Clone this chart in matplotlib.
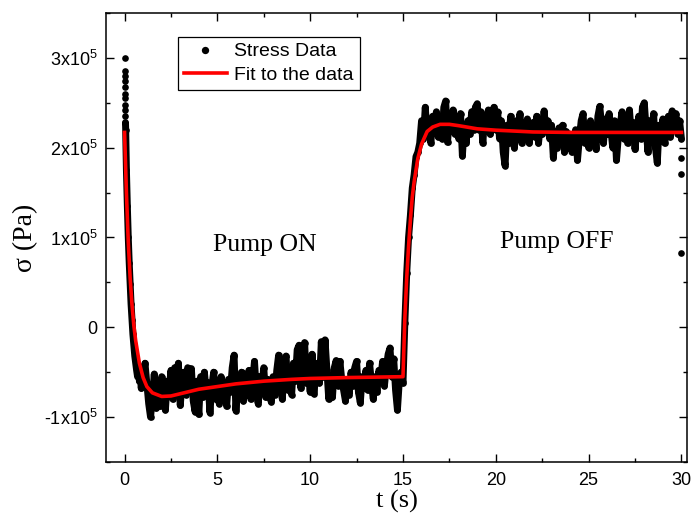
import matplotlib
matplotlib.use("Agg")
import matplotlib.pyplot as plt
import numpy as np
from matplotlib.ticker import FixedLocator, MultipleLocator


# stress values in units of 1e5 Pa
spike_t = [0.0, 0.0, 0.0, 0.0, 0.01, 0.01, 0.02, 0.02, 0.03, 0.04, 0.05]
spike_s = [3.0, 2.85, 2.80, 2.74, 2.68, 2.60, 2.55, 2.48, 2.42, 2.35, 2.28]

decay_t = [0.06, 0.1, 0.15, 0.2, 0.25, 0.3, 0.35, 0.4, 0.45, 0.5, 0.55, 0.6,
           0.65, 0.7, 0.75, 0.8, 0.85, 0.9, 0.95]
decay_s = [2.20, 1.75, 1.35, 1.00, 0.72, 0.48, 0.26, 0.08, -0.08, -0.20, -0.32, -0.40,
           -0.48, -0.55, -0.45, -0.60, -0.50, -0.68, -0.48]

stress_on = [
    -0.55, -0.40, -0.62, -0.85, -1.00, -0.78, -0.52, -0.90, -0.60, -0.88,
    -0.55, -0.82, -0.92, -0.60, -0.70, -0.48, -0.80, -0.45, -0.65, -0.40,
    -0.87, -0.62, -0.50, -0.75, -0.45, -0.70, -0.46, -0.82, -0.94, -0.60,
    -0.97, -0.55, -0.78, -0.50, -0.72, -0.62, -0.95, -0.66, -0.50, -0.80,
    -0.60, -0.85, -0.55, -0.78, -0.62, -0.88, -0.58, -0.72, -0.45, -0.31,
    -0.93, -0.60, -0.78, -0.50, -0.82, -0.55, -0.70, -0.48, -0.80, -0.60,
    -0.38, -0.72, -0.85, -0.55, -0.66, -0.45, -0.78, -0.58, -0.70, -0.83,
    -0.55, -0.75, -0.48, -0.31, -0.65, -0.80, -0.40, -0.32, -0.70, -0.55,
    -0.75, -0.40, -0.60, -0.25, -0.20, -0.68, -0.35, -0.17, -0.62, -0.45,
    -0.72, -0.30, -0.74, -0.50, -0.40, -0.62, -0.16, -0.55, -0.14, -0.48,
    -0.80, -0.55, -0.78, -0.45, -0.37, -0.65, -0.38, -0.58, -0.70, -0.82,
    -0.60, -0.75, -0.50, -0.65, -0.45, -0.38, -0.72, -0.84, -0.55, -0.68,
    -0.48, -0.70, -0.40, -0.62, -0.80, -0.55, -0.72, -0.48, -0.58, -0.38,
    -0.65, -0.45, -0.30, -0.23, -0.55, -0.35, -0.70, -0.92, -0.60, -0.50,
    -0.62,
]

stress_off = [
    0.05, 0.60, 1.00, 1.25, 1.55, 1.70, 1.90, 1.95, 2.05,
    2.30, 2.10, 2.45, 2.15, 2.30, 2.05, 2.35, 2.20, 2.40, 2.12,
    2.30, 2.10, 2.45, 2.52, 2.06, 2.35, 2.20, 2.42, 2.15, 2.30,
    2.10, 2.38, 1.91, 2.25, 2.05, 2.30, 2.15, 2.40, 2.20, 2.45,
    2.49, 2.20, 2.40, 2.05, 2.35, 2.25, 2.42, 2.15, 2.38, 2.45,
    2.20, 2.40, 2.10, 2.30, 1.95, 1.80, 2.25, 2.05, 2.35, 2.15,
    2.00, 2.30, 2.15, 2.38, 2.05, 2.25, 2.10, 2.32, 2.05, 2.20,
    2.28, 2.12, 2.35, 2.05, 2.25, 2.15, 2.41, 2.20, 2.30, 2.10,
    2.25, 1.89, 2.15, 2.00, 2.22, 2.10, 2.25, 1.95, 2.18, 2.05,
    2.15, 1.95, 2.08, 2.20, 1.86, 2.10, 2.30, 2.38, 2.05, 2.25,
    2.00, 2.30, 2.12, 2.20, 1.98, 2.35, 2.46, 2.25, 2.05, 2.32,
    2.15, 2.38, 2.20, 2.00, 2.30, 1.86, 2.12, 2.25, 2.40, 2.10,
    2.30, 2.05, 2.42, 2.15, 2.28, 1.98, 2.20, 2.35, 2.10, 2.45,
    2.50, 2.20, 1.95, 2.30, 2.10, 2.38, 2.00, 1.83, 2.25, 2.15,
    2.32, 2.05, 2.20, 2.35, 2.12, 2.41, 2.25, 2.38, 2.15, 2.30,
    2.10,
]

outlier_t = [30.0, 30.0, 30.0]
outlier_s = [1.88, 1.71, 0.83]

fit_t = [0.0, 0.1, 0.2, 0.3, 0.4, 0.5, 0.6, 0.8, 1.0, 1.2, 1.5, 2.0, 2.5, 3.0,
         4.0, 5.0, 6.0, 7.5, 9.0, 10.0, 12.0, 13.5, 15.0,
         15.1, 15.2, 15.3, 15.4, 15.5, 15.6, 15.8, 16.0, 16.3, 16.6, 17.0, 17.5,
         18.0, 19.0, 20.0, 21.0, 22.0, 24.0, 27.0, 30.0]
fit_s = [2.17, 1.50, 0.95, 0.55, 0.25, 0.02, -0.15, -0.40, -0.56, -0.66, -0.73,
         -0.77, -0.765, -0.74, -0.69, -0.66, -0.63, -0.60, -0.58, -0.57, -0.56,
         -0.555, -0.55,
         0.10, 0.55, 0.90, 1.20, 1.45, 1.62, 1.88, 2.04, 2.18, 2.23, 2.26, 2.26,
         2.245, 2.21, 2.195, 2.185, 2.175, 2.17, 2.17, 2.17]

y_ticks = [-1, 0, 1, 2, 3]
y_tick_labels = ["-1x10$^{5}$", "0", "1x10$^{5}$", "2x10$^{5}$", "3x10$^{5}$"]
x_ticks = [0, 5, 10, 15, 20, 25, 30]

SCALE = 1e5


def main() -> None:
    plt.rcParams["font.family"] = ["Liberation Sans", "DejaVu Sans"]
    plt.rcParams["mathtext.default"] = "regular"

    fig = plt.figure(figsize=(6.91, 5.17), dpi=100)
    ax = fig.add_axes([0.1534, 0.1064, 0.8408, 0.8685])

    t_on = np.linspace(1.0, 15.0, len(stress_on))
    t_off = np.linspace(15.1, 30.0, len(stress_off))
    t_line = np.concatenate([spike_t[-1:], decay_t, t_on, t_off])
    s_line = np.concatenate([spike_s[-1:], decay_s, stress_on, stress_off]) * SCALE

    ax.plot(t_line, s_line, "-", color="black", lw=5.0,
            solid_joinstyle="round", solid_capstyle="round", zorder=2)
    all_t = np.concatenate([spike_t, t_line, outlier_t])
    all_s = np.concatenate([np.array(spike_s) * SCALE, s_line,
                            np.array(outlier_s) * SCALE])
    ax.plot(all_t, all_s, "o", color="black", ms=4.8, mew=0, zorder=2,
            label="Stress Data")

    ax.plot(fit_t, np.array(fit_s) * SCALE, "-", color="#ff0000", lw=2.6,
            zorder=3, label="Fit to the data")

    ax.set_xlim(-1.0, 30.3)
    ax.set_ylim(-1.5e5, 3.5e5)
    ax.xaxis.set_major_locator(FixedLocator(x_ticks))
    ax.xaxis.set_minor_locator(MultipleLocator(2.5))
    ax.yaxis.set_major_locator(FixedLocator([v * SCALE for v in y_ticks]))
    ax.yaxis.set_minor_locator(MultipleLocator(0.5e5))
    ax.set_yticklabels(y_tick_labels)

    ax.tick_params(which="both", direction="in", top=True, right=True,
                   width=1.0, labelsize=13)
    ax.tick_params(which="major", length=6)
    ax.tick_params(which="minor", length=3)
    ax.tick_params(axis="x", which="major", pad=7)
    ax.tick_params(axis="y", which="major", pad=6)
    for spine in ax.spines.values():
        spine.set_linewidth(1.1)

    serif = ["Liberation Serif", "DejaVu Serif"]
    ax.set_xlabel("t (s)", family=serif, fontsize=19, labelpad=1)
    ax.set_ylabel("σ (Pa)", family=serif, fontsize=20, labelpad=4)

    ax.text(7.54, 0.92e5, "Pump ON", family=serif, fontsize=18.5,
            ha="center", va="center")
    ax.text(23.26, 0.955e5, "Pump OFF", family=serif, fontsize=18.5,
            ha="center", va="center")

    leg = ax.legend(loc="upper left", bbox_to_anchor=(0.124, 0.9465),
                    borderaxespad=0, fontsize=14, fancybox=False,
                    edgecolor="black", framealpha=1, handlelength=2.2,
                    handletextpad=0.4, labelspacing=0.3, borderpad=0.3,
                    markerscale=1.1)
    leg.get_frame().set_linewidth(0.9)

    fig.savefig("out.png", dpi=100)
    plt.close(fig)


if __name__ == "__main__":
    main()
